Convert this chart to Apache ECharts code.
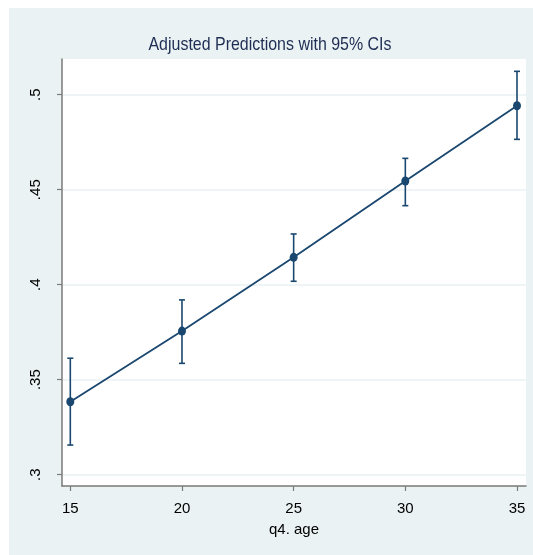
<!DOCTYPE html>
<html>
<head>
<meta charset="utf-8">
<script src="https://cdn.jsdelivr.net/npm/echarts@6/dist/echarts.min.js"></script>
<style>
html,body{margin:0;padding:0;background:#ffffff;}
#chart{width:533px;height:555px;}
</style>
</head>
<body>
<div id="chart"></div>
<script>
// Data
const ages = [15, 20, 25, 30, 35];
const margins = [0.3384, 0.3756, 0.4144, 0.4546, 0.4942];
const ciLow = [0.3156, 0.3586, 0.4018, 0.4416, 0.4765];
const ciHigh = [0.3613, 0.3920, 0.4267, 0.4665, 0.5123];
const yTicks = [0.3, 0.35, 0.4, 0.45, 0.5];
const xTicks = [15, 20, 25, 30, 35];
const titleText = 'Adjusted Predictions with 95% CIs';
const xTitle = 'q4. age';

const NAVY = '#1a476f';
const BG = '#eaf2f3';
const FONT = '"Liberation Sans Narrow", "Arial Narrow", "Liberation Sans", Arial, sans-serif';

const chart = echarts.init(document.getElementById('chart'), null, {renderer: 'canvas'});

const pointData = ages.map((a, i) => [a, margins[i]]);
const ciData = ages.map((a, i) => [a, ciLow[i], ciHigh[i]]);

const option = {
  animation: false,
  backgroundColor: '#ffffff',
  graphic: [{
    type: 'rect', z: -10, silent: true,
    shape: {x: 9, y: 8, width: 540, height: 560},
    style: {fill: BG}
  }, {
    type: 'text', x: 270, y: 45, scaleX: 0.84, silent: true, z: 10,
    style: {
      text: titleText, fontFamily: FONT, fontSize: 19, fill: '#1e2d53',
      align: 'center', verticalAlign: 'middle'
    }
  }],
  grid: {left: 62, top: 59, right: 7, bottom: 69, show: true, backgroundColor: '#ffffff', borderWidth: 0},
  xAxis: {
    type: 'value', min: 14.628, max: 35.403,
    name: xTitle, nameLocation: 'middle', nameGap: 36,
    nameTextStyle: {fontFamily: FONT, fontSize: 15, color: '#000'},
    axisLine: {show: true, onZero: false, lineStyle: {color: '#7a7a7a', width: 1.5}},
    axisTick: {show: true, customValues: xTicks, length: 5, lineStyle: {color: '#7a7a7a', width: 1.2}},
    axisLabel: {customValues: xTicks, margin: 15, fontFamily: FONT, fontSize: 15, color: '#000'},
    splitLine: {show: false}
  },
  yAxis: {
    type: 'value', min: 0.29405, max: 0.51879,
    axisLine: {show: true, onZero: false, lineStyle: {color: '#7a7a7a', width: 1.5}},
    axisTick: {show: true, customValues: yTicks, length: 5, lineStyle: {color: '#7a7a7a', width: 1.2}},
    axisLabel: {
      customValues: yTicks, margin: 19, rotate: 90,
      fontFamily: FONT, fontSize: 15, color: '#000',
      formatter: v => String(+v.toFixed(2)).replace(/^0\./, '.')
    },
    splitLine: {show: true, lineStyle: {color: BG, width: 1.5}}
  },
  series: [
    {
      type: 'custom',
      data: ciData,
      z: 3,
      renderItem: function (params, api) {
        const x = api.value(0);
        const lo = api.coord([x, api.value(1)]);
        const hi = api.coord([x, api.value(2)]);
        const w = 3;
        const st = {stroke: NAVY, lineWidth: 1.6};
        return {
          type: 'group',
          children: [
            {type: 'line', shape: {x1: lo[0], y1: lo[1], x2: hi[0], y2: hi[1]}, style: st},
            {type: 'line', shape: {x1: lo[0] - w, y1: lo[1], x2: lo[0] + w, y2: lo[1]}, style: st},
            {type: 'line', shape: {x1: hi[0] - w, y1: hi[1], x2: hi[0] + w, y2: hi[1]}, style: st}
          ]
        };
      }
    },
    {
      type: 'line',
      data: pointData,
      z: 4,
      symbol: 'circle',
      symbolSize: [8, 9],
      lineStyle: {color: NAVY, width: 1.8},
      itemStyle: {color: NAVY},
      clip: false
    }
  ]
};
chart.setOption(option);
</script>
</body>
</html>
